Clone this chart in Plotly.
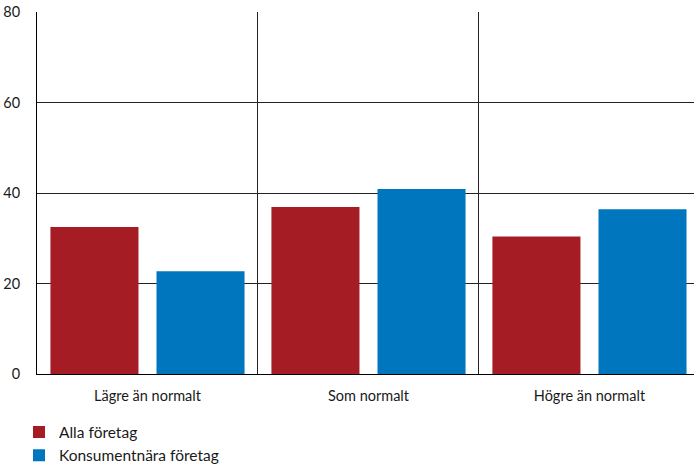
import plotly.graph_objects as go

categories = ["Lägre än normalt", "Som normalt", "Högre än normalt"]
alla_foretag = [32.5, 36.9, 30.4]
konsumentnara = [22.7, 40.9, 36.4]
y_ticks = [0, 20, 40, 60, 80]

RED = "#A51C24"
BLUE = "#0076BE"
FONT = "Lato"
AXIS_FONT_SIZE = 14.5
LEGEND_FONT_SIZE = 15.5

fig = go.Figure()
fig.add_trace(go.Bar(x=categories, y=alla_foretag, name="Alla företag",
                     marker=dict(color=RED, line=dict(width=0))))
fig.add_trace(go.Bar(x=categories, y=konsumentnara, name="Konsumentnära företag",
                     marker=dict(color=BLUE, line=dict(width=0))))

fig.update_layout(
    width=694, height=465,
    margin=dict(l=37, r=0, t=12, b=91, autoexpand=False),
    paper_bgcolor="white", plot_bgcolor="white",
    barmode="group", bargap=0.04, bargroupgap=0.17,
    font=dict(family=FONT, size=AXIS_FONT_SIZE, color="#1a1a1a"),
    showlegend=True,
    legend=dict(orientation="v", x=-0.0274, xanchor="left",
                yref="container", y=0.1065, yanchor="top",
                font=dict(size=LEGEND_FONT_SIZE), itemwidth=30, tracegroupgap=0),
    xaxis=dict(type="category", range=[-0.5, 2.473], tickson="boundaries",
               showgrid=True, gridcolor="#222", gridwidth=1, automargin=False,
               ticks="", showline=True, linecolor="#000", linewidth=1,
               ticklabelstandoff=9, tickfont=dict(size=AXIS_FONT_SIZE)),
    yaxis=dict(range=[0, 80], tickvals=y_ticks, showgrid=True, gridcolor="#222",
               gridwidth=1, zeroline=False, showline=True, linecolor="#000",
               linewidth=1, ticks="", ticklabelstandoff=13, automargin=False,
               tickfont=dict(size=AXIS_FONT_SIZE)),
)

fig.write_html("out.html")
